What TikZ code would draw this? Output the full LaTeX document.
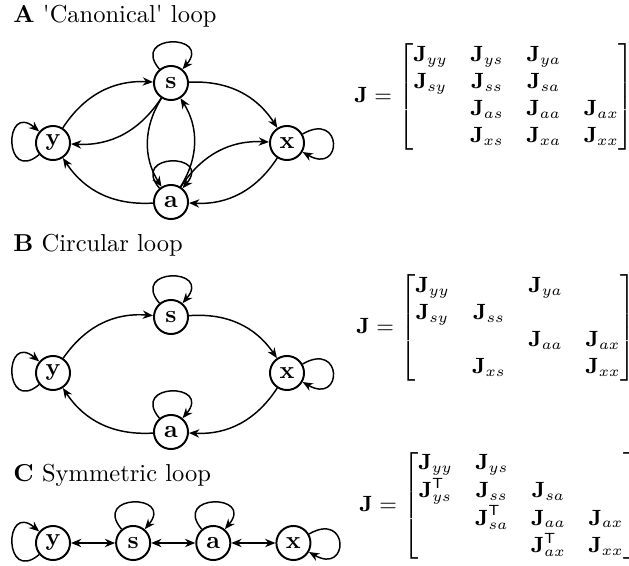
\documentclass[tikz,border=0pt]{standalone}
\usepackage{amsmath, amssymb}
\usepackage{tikz}
\usetikzlibrary{arrows.meta, positioning}
\newcommand{\jac}[1]{\mathbf{J}_{#1}}
\setlength{\arraycolsep}{4.6pt}

\tikzset{
  state/.style={draw, circle, line width=0.8pt, minimum size=13.9pt, inner sep=0pt, font=\bfseries},
  link/.style={-{Stealth[length=4.2pt, width=3.4pt]}, line width=0.6pt},
  twoway/.style={{Stealth[length=4.2pt, width=3.4pt]}-{Stealth[length=4.2pt, width=3.4pt]}, line width=0.6pt},
  self/.style={link, loop, min distance=19pt, looseness=1},
  title/.style={anchor=base west, inner sep=0pt},
  jmat/.style={anchor=west, inner sep=0pt, font=\small}
}

\begin{document}
\begin{tikzpicture}[x=0.408pt, y=0.408pt, node distance=18pt]
  \useasboundingbox (0,0) rectangle (629,566);
  % A: canonical loop
  \node[title] (tA) at (13,543) {\textbf{A} \textquotesingle Canonical\textquotesingle{} loop};
  \node[state] (sA) at (171,483) {s};
  \node[state] (yA) at (53,423) {y};
  \node[state] (xA) at (287,423) {x};
  \node[state] (aA) at (171,364) {a};
  \draw[self] (sA) to[out=130, in=50] (sA);
  \draw[self] (aA) to[out=130, in=50] (aA);
  \draw[self] (yA) to[out=220, in=140] (yA);
  \draw[self] (xA) to[out=30, in=-30] (xA);
  \draw[link] (yA) to[bend left=30] (sA);
  \draw[link] (sA) to[bend left=30] (yA);
  \draw[link] (sA) to[bend left=30] (xA);
  \draw[link] (xA) to[bend left=30] (aA);
  \draw[link] (aA) to[bend left=30] (xA);
  \draw[link] (aA) to[bend left=30] (yA);
  \draw[link] (sA) to[bend right=32] (aA);
  \draw[link] (aA) to[bend right=32] (sA);
  \node[jmat] (jA) at (354,469) {$\mathbf{J} = \begin{bmatrix}
    \jac{yy} & \jac{ys} & \jac{ya} & \\
    \jac{sy} & \jac{ss} & \jac{sa} & \\
    & \jac{as} & \jac{aa} & \jac{ax} \\
    & \jac{xs} & \jac{xa} & \jac{xx}
  \end{bmatrix}$};

  % B: circular loop
  \node[title] (tB) at (13,314) {\textbf{B} Circular loop};
  \node[state] (sB) at (171,249) {s};
  \node[state] (yB) at (53,193) {y};
  \node[state] (xB) at (287,193) {x};
  \node[state] (aB) at (171,134) {a};
  \draw[self] (sB) to[out=130, in=50] (sB);
  \draw[self] (aB) to[out=130, in=50] (aB);
  \draw[self] (yB) to[out=220, in=140] (yB);
  \draw[self] (xB) to[out=30, in=-30] (xB);
  \draw[link] (yB) to[bend left=30] (sB);
  \draw[link] (sB) to[bend left=30] (xB);
  \draw[link] (xB) to[bend left=30] (aB);
  \draw[link] (aB) to[bend left=30] (yB);
  \node[jmat] (jB) at (356,238) {$\mathbf{J} = \begin{bmatrix}
    \jac{yy} & & \jac{ya} & \\
    \jac{sy} & \jac{ss} & & \\
    & & \jac{aa} & \jac{ax} \\
    & \jac{xs} & & \jac{xx}
  \end{bmatrix}$};

  % C: symmetric loop
  \node[title] (tC) at (13,84) {\textbf{C} Symmetric loop};
  \node[state] (yC) at (53,23) {y};
  \node[state, right=of yC] (sC) {s};
  \node[state, right=of sC] (aC) {a};
  \node[state, right=of aC] (xC) {x};
  \draw[self] (sC) to[out=130, in=50] (sC);
  \draw[self] (aC) to[out=130, in=50] (aC);
  \draw[self] (yC) to[out=220, in=140] (yC);
  \draw[self] (xC) to[out=30, in=-30] (xC);
  \draw[twoway] (yC) -- (sC);
  \draw[twoway] (sC) -- (aC);
  \draw[twoway] (aC) -- (xC);
  \node[jmat] (jC) at (359,60) {$\mathbf{J} = \begin{bmatrix}
    \jac{yy} & \jac{ys} & & \\
    \jac{ys}^{\mathsf{T}} & \jac{ss} & \jac{sa} & \\
    & \jac{sa}^{\mathsf{T}} & \jac{aa} & \jac{ax} \\
    & & \jac{ax}^{\mathsf{T}} & \jac{xx}
  \end{bmatrix}$};
\end{tikzpicture}
\end{document}
